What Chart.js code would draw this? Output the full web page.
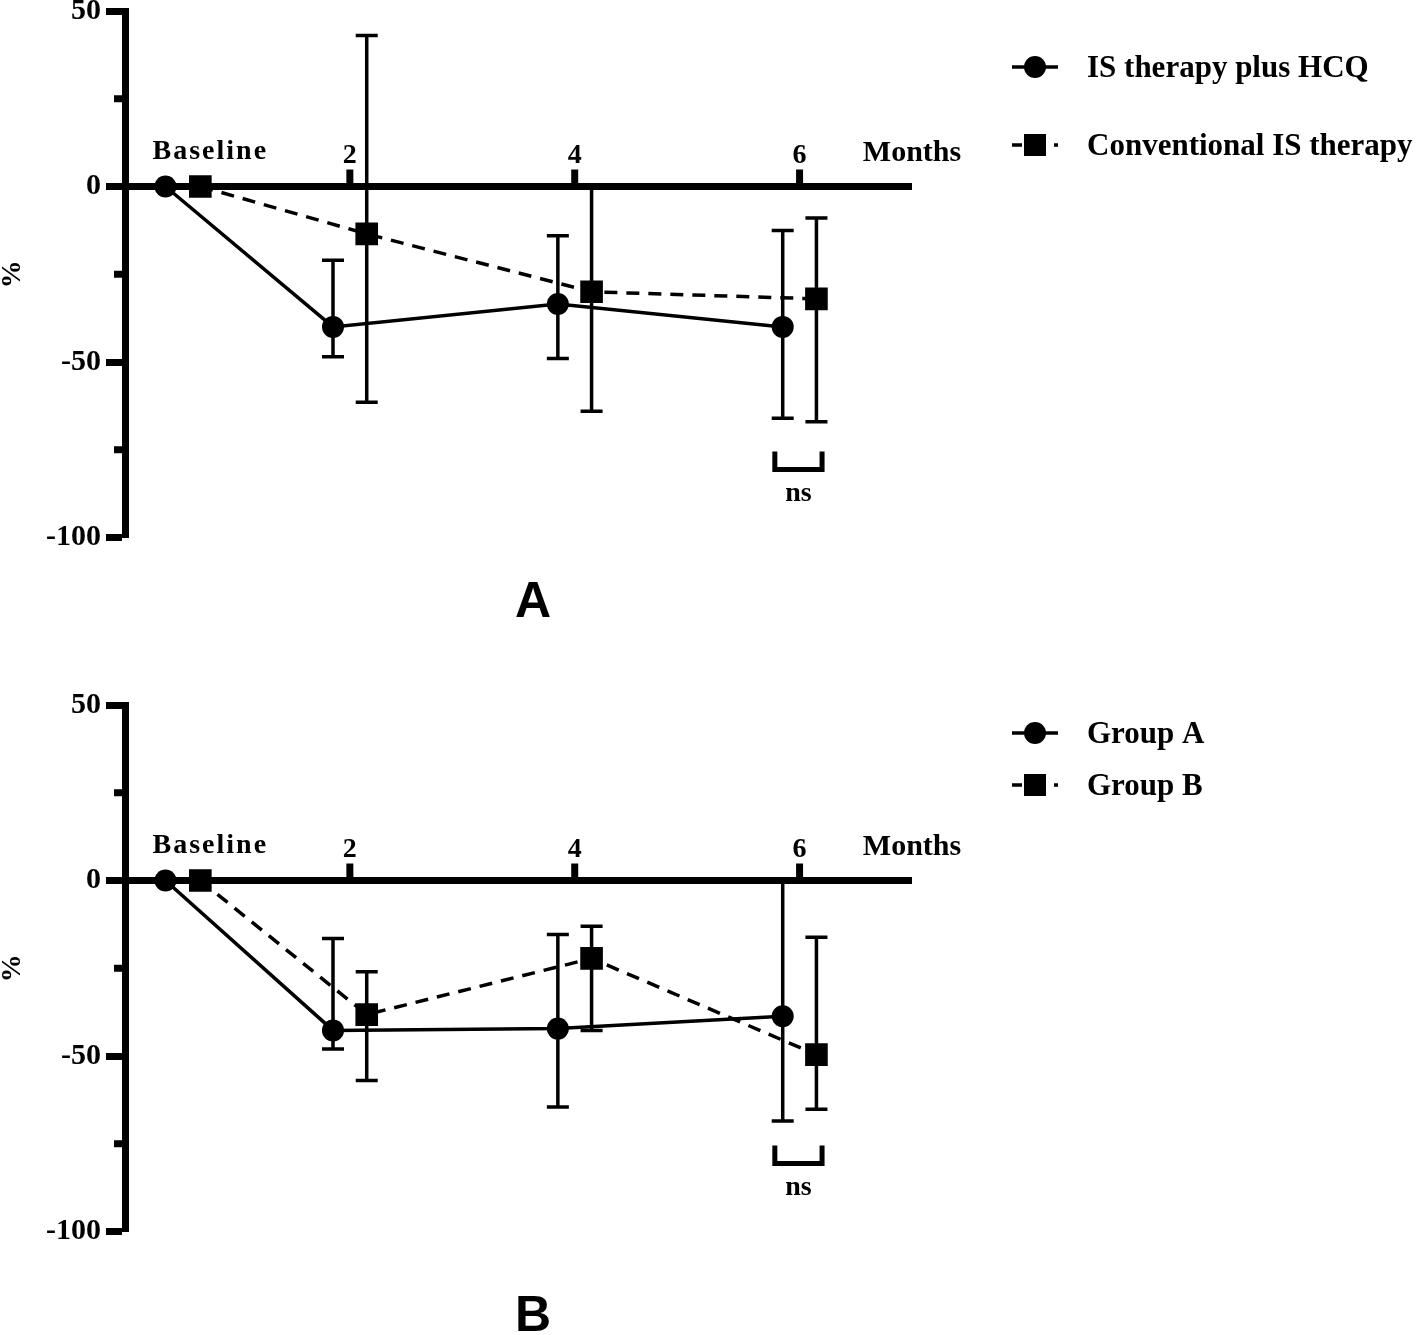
<!DOCTYPE html>
<html>
<head>
<meta charset="utf-8">
<script src="https://cdn.jsdelivr.net/npm/chart.js@4.4.1/dist/chart.umd.min.js"></script>
<style>
  html, body { margin: 0; padding: 0; background: #fff; }
  body { width: 1418px; height: 1335px; position: relative; overflow: hidden; }
  canvas { position: absolute; left: 0; top: 0; }
</style>
</head>
<body>
<canvas id="chartA" width="1418" height="660"></canvas>
<canvas id="chartB" width="1418" height="660"></canvas>
<script>
// time axis (months); baseline label sits between the two baseline markers
const timeLabels = ["Baseline", "2", "4", "6"];
const timeLabelPos = [0.75, 2, 4, 6];
const monthTicks = [2, 4, 6];
// markers are nudged left/right of each month so the bars don't overlap
const xCircle = [0.36, 1.85, 3.85, 5.85];
const xSquare = [0.67, 2.15, 4.15, 6.15];

// panel A - % change
const hcqMean = [0, -40, -33.5, -40];
const hcqUpper = [0, -21, -14, -12.5];
const hcqLower = [0, -48.5, -49, -66];
const convMean = [0, -13.5, -30, -32];
const convUpper = [0, 43, 0, -9];
const convLower = [0, -61.5, -64, -67];

// panel B - % change
const groupAMean = [0, -42.7, -42.2, -38.7];
const groupAUpper = [0, -16.5, -15.4, 0];
const groupALower = [0, -48, -64.5, -68.5];
const groupBMean = [0, -38.2, -22.2, -49.6];
const groupBUpper = [0, -26, -13, -16.2];
const groupBLower = [0, -57, -42.7, -65.2];

const minorTicks = [25, -25, -75];
const serif = '"Liberation Serif", "Times New Roman", serif';
const AXIS_SPAN = 526.5; // px from 50 to -100

function pts(xs, ys) {
  return xs.map((x, i) => ({ x: x, y: ys[i] }));
}

// draws the things Chart.js has no option for: zero axis, error bars, labels, legend
function makeDecor(extra) {
  return {
    id: "decor",
    beforeDatasetsDraw(chart) {
      const { ctx } = chart;
      const x = chart.scales.x;
      const y = chart.scales.y;
      const y0 = y.getPixelForValue(0);
      ctx.save();
      ctx.strokeStyle = "#000";
      ctx.lineCap = "butt";

      // short minor ticks on y axis
      ctx.lineWidth = 7;
      minorTicks.forEach((v) => {
        const py = y.getPixelForValue(v);
        ctx.beginPath();
        ctx.moveTo(x.left - 11, py);
        ctx.lineTo(x.left, py);
        ctx.stroke();
      });

      // x axis at zero
      ctx.beginPath();
      ctx.moveTo(x.left, y0);
      ctx.lineTo(x.right, y0);
      ctx.stroke();
      monthTicks.forEach((m) => {
        const px = x.getPixelForValue(m);
        ctx.beginPath();
        ctx.moveTo(px, y0);
        ctx.lineTo(px, y0 - 17);
        ctx.stroke();
      });

      // error bars
      ctx.lineWidth = 3.5;
      extra.errors.forEach((e) => {
        for (let i = 0; i < e.xs.length; i++) {
          if (e.upper[i] === e.lower[i]) continue;
          const px = x.getPixelForValue(e.xs[i]);
          const pt = y.getPixelForValue(e.upper[i]);
          const pb = y.getPixelForValue(e.lower[i]);
          ctx.beginPath();
          ctx.moveTo(px, pt);
          ctx.lineTo(px, pb);
          ctx.moveTo(px - 11, pt);
          ctx.lineTo(px + 11, pt);
          ctx.moveTo(px - 11, pb);
          ctx.lineTo(px + 11, pb);
          ctx.stroke();
        }
      });
      ctx.restore();
    },
    afterDraw(chart) {
      const { ctx } = chart;
      const x = chart.scales.x;
      const y = chart.scales.y;
      const y0 = y.getPixelForValue(0);
      const off = extra.top; // page y -> canvas y
      ctx.save();
      ctx.fillStyle = "#000";
      ctx.strokeStyle = "#000";
      ctx.textAlign = "center";
      ctx.textBaseline = "alphabetic";

      // tick labels above the zero axis
      timeLabels.forEach((t, i) => {
        const px = x.getPixelForValue(timeLabelPos[i]);
        ctx.font = "bold 28px " + serif;
        if (i === 0) {
          ctx.letterSpacing = "2px";
          ctx.fillText(t, px + 1, y0 - 28);
          ctx.letterSpacing = "0px";
        } else {
          ctx.fillText(t, px, y0 - 24);
        }
      });
      ctx.font = "bold 30px " + serif;
      ctx.fillText("Months", x.right, y0 - 26);

      // y axis title, rotated
      ctx.save();
      ctx.translate(13, (y.top + y.bottom) / 2);
      ctx.rotate(-Math.PI / 2);
      ctx.textBaseline = "middle";
      ctx.font = "bold 28px " + serif;
      ctx.fillText("%", 0, 0);
      ctx.restore();

      // ns bracket at 6 months
      ctx.lineWidth = 5;
      ctx.lineJoin = "miter";
      const bl = x.getPixelForValue(5.78);
      const br = x.getPixelForValue(6.2);
      const bt = y.getPixelForValue(-75.5);
      const bb = y.getPixelForValue(-80.6);
      ctx.beginPath();
      ctx.moveTo(bl, bt);
      ctx.lineTo(bl, bb);
      ctx.lineTo(br, bb);
      ctx.lineTo(br, bt);
      ctx.stroke();
      ctx.font = "bold 28px " + serif;
      ctx.fillText("ns", x.getPixelForValue(5.99), y.getPixelForValue(-89.5));

      // legend
      ctx.textAlign = "left";
      extra.legend.forEach((row) => {
        const ry = row.y - off;
        ctx.lineWidth = 3.5;
        ctx.setLineDash(row.dashed ? [10, 32] : []);
        ctx.beginPath();
        ctx.moveTo(1012, ry);
        ctx.lineTo(1058, ry);
        ctx.stroke();
        ctx.setLineDash([]);
        if (row.square) {
          ctx.fillRect(1035 - 11, ry - 11, 22, 22);
        } else {
          ctx.beginPath();
          ctx.arc(1035, ry, 11, 0, Math.PI * 2);
          ctx.fill();
        }
        ctx.font = "bold 31px " + serif;
        ctx.fillText(row.text, 1087, ry + 10);
      });

      // panel letter
      ctx.textAlign = "center";
      ctx.font = "bold 50px \"Liberation Sans\", Arial, sans-serif";
      ctx.fillText(extra.letter, 533, extra.letterY - off);
      ctx.restore();
    },
  };
}

function makeChart(id, top50, s, extra) {
  extra.top = 0;
  const circleSet = {
    label: s.names[0],
    data: pts(xCircle, s.circleMean),
    borderColor: "#000",
    backgroundColor: "#000",
    borderWidth: 3.5,
    pointStyle: "circle",
    pointRadius: 11,
    pointBorderWidth: 0,
    tension: 0,
  };
  const squareSet = {
    label: s.names[1],
    data: pts(xSquare, s.squareMean),
    borderColor: "#000",
    backgroundColor: "#000",
    borderWidth: 3.5,
    borderDash: [13, 9],
    pointStyle: "rect",
    pointRadius: 16,
    pointBorderWidth: 0,
    tension: 0,
  };
  const canvas = document.getElementById(id);
  const chart = new Chart(canvas, {
    type: "line",
    data: { datasets: [squareSet, circleSet] },
    options: {
      responsive: false,
      animation: false,
      events: [],
      layout: { padding: { left: 0, top: 0, right: 506, bottom: 100 } },
      plugins: { legend: { display: false }, tooltip: { enabled: false } },
      scales: {
        x: { type: "linear", min: 0, max: 7, display: false },
        y: {
          min: -100,
          max: 50,
          ticks: {
            stepSize: 25,
            autoSkip: false,
            padding: 5,
            color: "#000",
            font: { family: serif, size: 30, weight: "bold" },
            callback: (v) => (v % 50 === 0 ? String(v) : ""),
          },
          grid: {
            drawOnChartArea: false,
            tickLength: 19,
            tickWidth: 7,
            tickColor: (c) => (c.tick && c.tick.value % 50 === 0 ? "#000" : "rgba(0,0,0,0)"),
          },
          border: { width: 7, color: "#000" },
          afterFit: (sc) => {
            sc.width = 125;
          },
        },
      },
    },
    plugins: [makeDecor(extra)],
  });
  // fit the plot height, then slide the canvas so the 50 tick lands on top50
  const t = chart.chartArea.top;
  chart.options.layout.padding.bottom = canvas.height - (t + AXIS_SPAN);
  extra.top = top50 - t;
  chart.update();
  canvas.style.top = extra.top + "px";
  return chart;
}

makeChart(
  "chartA",
  11,
  { names: ["IS therapy plus HCQ", "Conventional IS therapy"], circleMean: hcqMean, squareMean: convMean },
  {
    errors: [
      { xs: xCircle, upper: hcqUpper, lower: hcqLower },
      { xs: xSquare, upper: convUpper, lower: convLower },
    ],
    legend: [
      { y: 67, text: "IS therapy plus HCQ", square: false, dashed: false },
      { y: 145, text: "Conventional IS therapy", square: true, dashed: true },
    ],
    letter: "A",
    letterY: 617,
  }
);

makeChart(
  "chartB",
  705,
  { names: ["Group A", "Group B"], circleMean: groupAMean, squareMean: groupBMean },
  {
    errors: [
      { xs: xCircle, upper: groupAUpper, lower: groupALower },
      { xs: xSquare, upper: groupBUpper, lower: groupBLower },
    ],
    legend: [
      { y: 733, text: "Group A", square: false, dashed: false },
      { y: 785, text: "Group B", square: true, dashed: true },
    ],
    letter: "B",
    letterY: 1331,
  }
);
</script>
</body>
</html>
